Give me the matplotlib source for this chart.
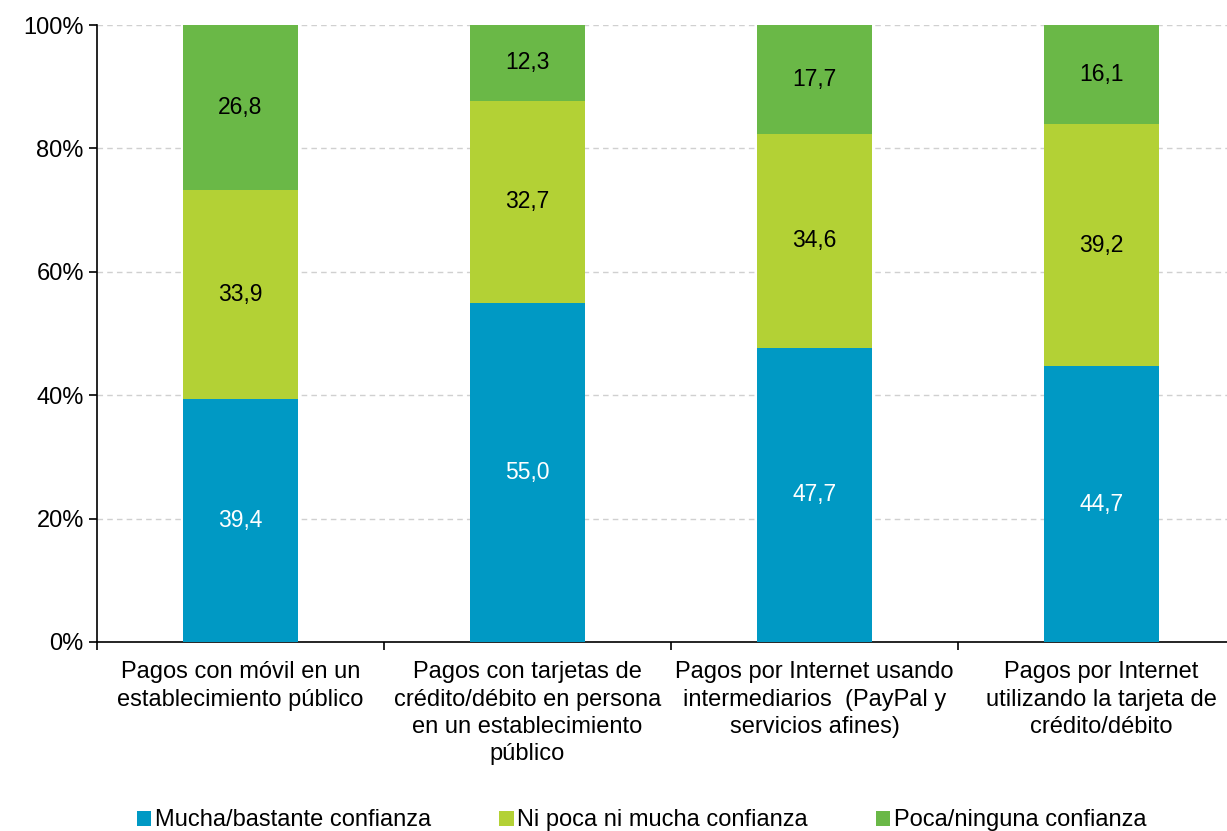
import matplotlib.pyplot as plt
import numpy as np

plt.rcParams['font.family'] = ['Liberation Sans', 'DejaVu Sans']

categorias = [
    "Pagos con móvil en un\nestablecimiento público",
    "Pagos con tarjetas de\ncrédito/débito en persona\nen un establecimiento\npúblico",
    "Pagos por Internet usando\nintermediarios  (PayPal y\nservicios afines)",
    "Pagos por Internet\nutilizando la tarjeta de\ncrédito/débito",
]
mucha = [39.4, 55.0, 47.7, 44.7]
ni_poca = [33.9, 32.7, 34.6, 39.2]
poca = [26.8, 12.3, 17.7, 16.1]

series = [
    ("Mucha/bastante confianza", mucha, "#0099c4", "white"),
    ("Ni poca ni mucha confianza", ni_poca, "#b3d135", "black"),
    ("Poca/ninguna confianza", poca, "#6ab847", "black"),
]

fig = plt.figure(figsize=(12.27, 8.31), dpi=100)
ax = fig.add_axes([97 / 1227, 189 / 831, 1148 / 1227, 617 / 831])

x = np.arange(len(categorias))
bottom = np.zeros(len(categorias))
for nombre, vals, color, tcolor in series:
    vals = np.array(vals)
    ax.bar(x, vals, 0.4, bottom=bottom, color=color, label=nombre, zorder=3)
    for xi, b, v in zip(x, bottom, vals):
        ax.text(xi, b + v / 2, f"{v:.1f}".replace(".", ","), ha="center", va="center",
                fontsize=16.5, color=tcolor, zorder=4)
    bottom += vals

ax.set_ylim(0, 100)
ax.set_xlim(-0.5, 3.5)
ax.set_yticks(range(0, 101, 20))
ax.set_yticklabels([f"{v}%" for v in range(0, 101, 20)], fontsize=17)
ax.yaxis.grid(True, linestyle=(0, (4, 3)), color="#d0d0d0", linewidth=1, zorder=0)

ax.set_xticks(x)
ax.set_xticklabels(categorias, fontsize=17, linespacing=1.3)
ax.tick_params(axis="x", which="major", length=0, pad=14)
ax.set_xticks(np.arange(-0.5, 4, 1), minor=True)
ax.tick_params(axis="x", which="minor", length=6, width=1.2, direction="out")
ax.tick_params(axis="y", length=6, width=1.2, direction="out")

for s in ["top", "right"]:
    ax.spines[s].set_visible(False)
ax.spines["left"].set_linewidth(1.2)
ax.spines["bottom"].set_linewidth(1.2)

fig.legend(loc="lower center", bbox_to_anchor=(0.523, -0.026), ncol=3, frameon=False,
           fontsize=17, handlelength=0.6, handleheight=0.6, handletextpad=0.15,
           columnspacing=2.9)

fig.savefig("out.png", dpi=100)
